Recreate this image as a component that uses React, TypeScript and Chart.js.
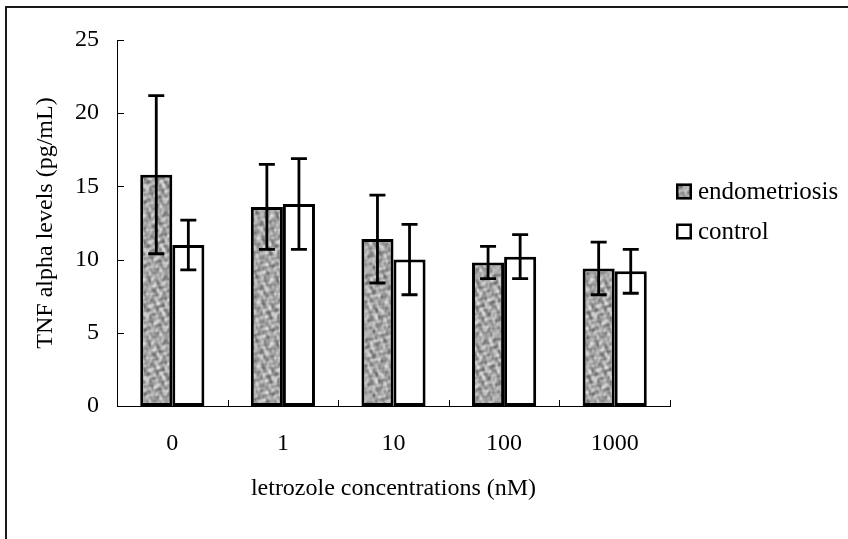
import React, { useEffect, useRef } from "react";
import { Chart, registerables } from "chart.js";

Chart.register(...registerables);

const categories = ["0", "1", "10", "100", "1000"];
const seriesLabels = ["endometriosis", "control"];
const endometriosisValues = [15.8, 13.6, 11.4, 9.8, 9.4];
const endometriosisErrors = [5.4, 2.9, 3.0, 1.1, 1.8];
const controlValues = [11.0, 13.8, 10.0, 10.2, 9.2];
const controlErrors = [1.7, 3.1, 2.4, 1.5, 1.5];
const yTicks = [0, 5, 10, 15, 20, 25];
const xTitle = "letrozole concentrations (nM)";
const yTitle = "TNF alpha levels (pg/mL)";

const FONT = "'Liberation Serif', 'Times New Roman', serif";
const W = 848;
const H = 539;

function makeTexture(): CanvasPattern | string {
  const size = 64;
  const c = document.createElement("canvas");
  c.width = size;
  c.height = size;
  const g = c.getContext("2d");
  if (!g) return "#a9a9a9";
  const img = g.createImageData(size, size);
  const a = (2 * Math.PI) / size;
  for (let y = 0; y < size; y++) {
    for (let x = 0; x < size; x++) {
      const v =
        165 +
        20 * Math.sin(a * (5 * x + 3 * y) + 1.3 * Math.sin(a * (2 * x - 7 * y))) +
        18 * Math.sin(a * (-4 * x + 6 * y) + 1.5 * Math.cos(a * (6 * x + y))) +
        15 * Math.cos(a * (7 * x - 2 * y) + 1.2 * Math.sin(a * 3 * y)) +
        10 * Math.sin(a * (9 * x + 8 * y) + 1.4 * Math.cos(a * (5 * x - 3 * y)));
      const idx = (y * size + x) * 4;
      const vv = Math.max(90, Math.min(225, v));
      img.data[idx] = vv;
      img.data[idx + 1] = vv;
      img.data[idx + 2] = vv;
      img.data[idx + 3] = 255;
    }
  }
  g.putImageData(img, 0, 0);
  return g.createPattern(c, "repeat") || "#a9a9a9";
}

const errorsByDataset = [endometriosisErrors, controlErrors];

const decorPlugin = {
  id: "decor",
  beforeDraw(chart: any) {
    const ctx = chart.ctx;
    ctx.save();
    ctx.fillStyle = "#fff";
    ctx.fillRect(0, 0, chart.width, chart.height);
    ctx.fillStyle = "#1a1a1a";
    ctx.fillRect(5, 6, 2, chart.height - 6);
    ctx.fillRect(5, 6, chart.width - 5, 2);
    ctx.restore();
  },
  afterDatasetsDraw(chart: any) {
    const ctx = chart.ctx;
    const yScale = chart.scales.y;
    ctx.save();
    ctx.strokeStyle = "#000";
    ctx.lineWidth = 2.8;
    chart.data.datasets.forEach((ds: any, di: number) => {
      const meta = chart.getDatasetMeta(di);
      const errs = errorsByDataset[di];
      meta.data.forEach((bar: any, i: number) => {
        const v = ds.data[i];
        const e = errs[i];
        const x = bar.x;
        const yt = yScale.getPixelForValue(v + e);
        const yb = yScale.getPixelForValue(v - e);
        const cap = 8;
        ctx.beginPath();
        ctx.moveTo(x, yt);
        ctx.lineTo(x, yb);
        ctx.moveTo(x - cap, yt);
        ctx.lineTo(x + cap, yt);
        ctx.moveTo(x - cap, yb);
        ctx.lineTo(x + cap, yb);
        ctx.stroke();
      });
    });
    ctx.restore();
  },
  afterDraw(chart: any) {
    const ctx = chart.ctx;
    const { x: xScale, y: yScale } = chart.scales;
    const area = chart.chartArea;
    ctx.save();
    ctx.strokeStyle = "#000";
    ctx.lineWidth = 1;
    ctx.beginPath();
    yScale.ticks.forEach((_t: any, i: number) => {
      const py = Math.round(yScale.getPixelForTick(i)) + 0.5;
      ctx.moveTo(area.left, py);
      ctx.lineTo(area.left + 7, py);
    });
    for (let i = 1; i <= categories.length; i++) {
      const px = Math.round(xScale.getPixelForValue(i - 0.5)) + 0.5;
      ctx.moveTo(px, area.bottom);
      ctx.lineTo(px, area.bottom - 6);
    }
    ctx.stroke();

    // legend
    const fills = chart.data.datasets.map((d: any) => d.backgroundColor);
    const boxX = area.right + 6;
    const rows = [191.5, 231.5];
    ctx.font = `25px ${FONT}`;
    ctx.textBaseline = "middle";
    ctx.textAlign = "left";
    seriesLabels.forEach((label, i) => {
      const cy = rows[i];
      ctx.fillStyle = fills[i];
      ctx.fillRect(boxX, cy - 8, 16, 16);
      ctx.lineWidth = 2.5;
      ctx.strokeStyle = "#000";
      ctx.strokeRect(boxX + 1.25, cy - 6.75, 13.5, 13.5);
      ctx.fillStyle = "#000";
      ctx.fillText(label, boxX + 22, cy + 1);
    });
    ctx.restore();
  },
};

export default function App() {
  const ref = useRef<HTMLCanvasElement | null>(null);

  useEffect(() => {
    document.body.style.margin = "0";
    const canvas = ref.current;
    if (!canvas) return;
    const texture = makeTexture();
    const chart = new Chart(canvas, {
      type: "bar",
      data: {
        labels: categories,
        datasets: [
          {
            label: seriesLabels[0],
            data: endometriosisValues,
            backgroundColor: texture as any,
            borderColor: "#000",
            borderWidth: 3,
            borderSkipped: false,
          },
          {
            label: seriesLabels[1],
            data: controlValues,
            backgroundColor: "#fff",
            borderColor: "#000",
            borderWidth: 3,
            borderSkipped: false,
          },
        ],
      },
      options: {
        responsive: false,
        animation: false,
        devicePixelRatio: 1,
        layout: { padding: { top: 40, right: W - 670, left: 0, bottom: 0 } },
        datasets: { bar: { categoryPercentage: 0.58, barPercentage: 1 } },
        plugins: {
          legend: { display: false },
          tooltip: { enabled: false },
        },
        scales: {
          x: {
            type: "category",
            grid: { display: false, drawTicks: false, offset: true },
            border: { display: true, color: "#000", width: 1 },
            ticks: { color: "#000", padding: 23, font: { family: FONT, size: 24 } },
            title: {
              display: true,
              text: xTitle,
              color: "#000",
              font: { family: FONT, size: 24 },
              padding: { top: 0, bottom: 36 },
            },
            afterFit(s: any) {
              s.height = H - 406;
            },
          },
          y: {
            min: 0,
            max: 25,
            grid: { display: false, drawTicks: false },
            border: { display: true, color: "#000", width: 1 },
            ticks: { color: "#000", padding: 18, stepSize: 5, font: { family: FONT, size: 24 } },
            afterBuildTicks(s: any) {
              s.ticks = yTicks.map((v) => ({ value: v }));
            },
            title: {
              display: true,
              text: yTitle,
              color: "#000",
              font: { family: FONT, size: 24 },
              padding: { top: 31, bottom: 0 },
            },
            afterFit(s: any) {
              s.width = 117;
            },
          },
        },
      },
      plugins: [decorPlugin],
    });
    return () => chart.destroy();
  }, []);

  return (
    <div style={{ position: "absolute", left: 0, top: 0 }}>
      <canvas ref={ref} width={W} height={H} style={{ display: "block", width: W, height: H }} />
    </div>
  );
}
